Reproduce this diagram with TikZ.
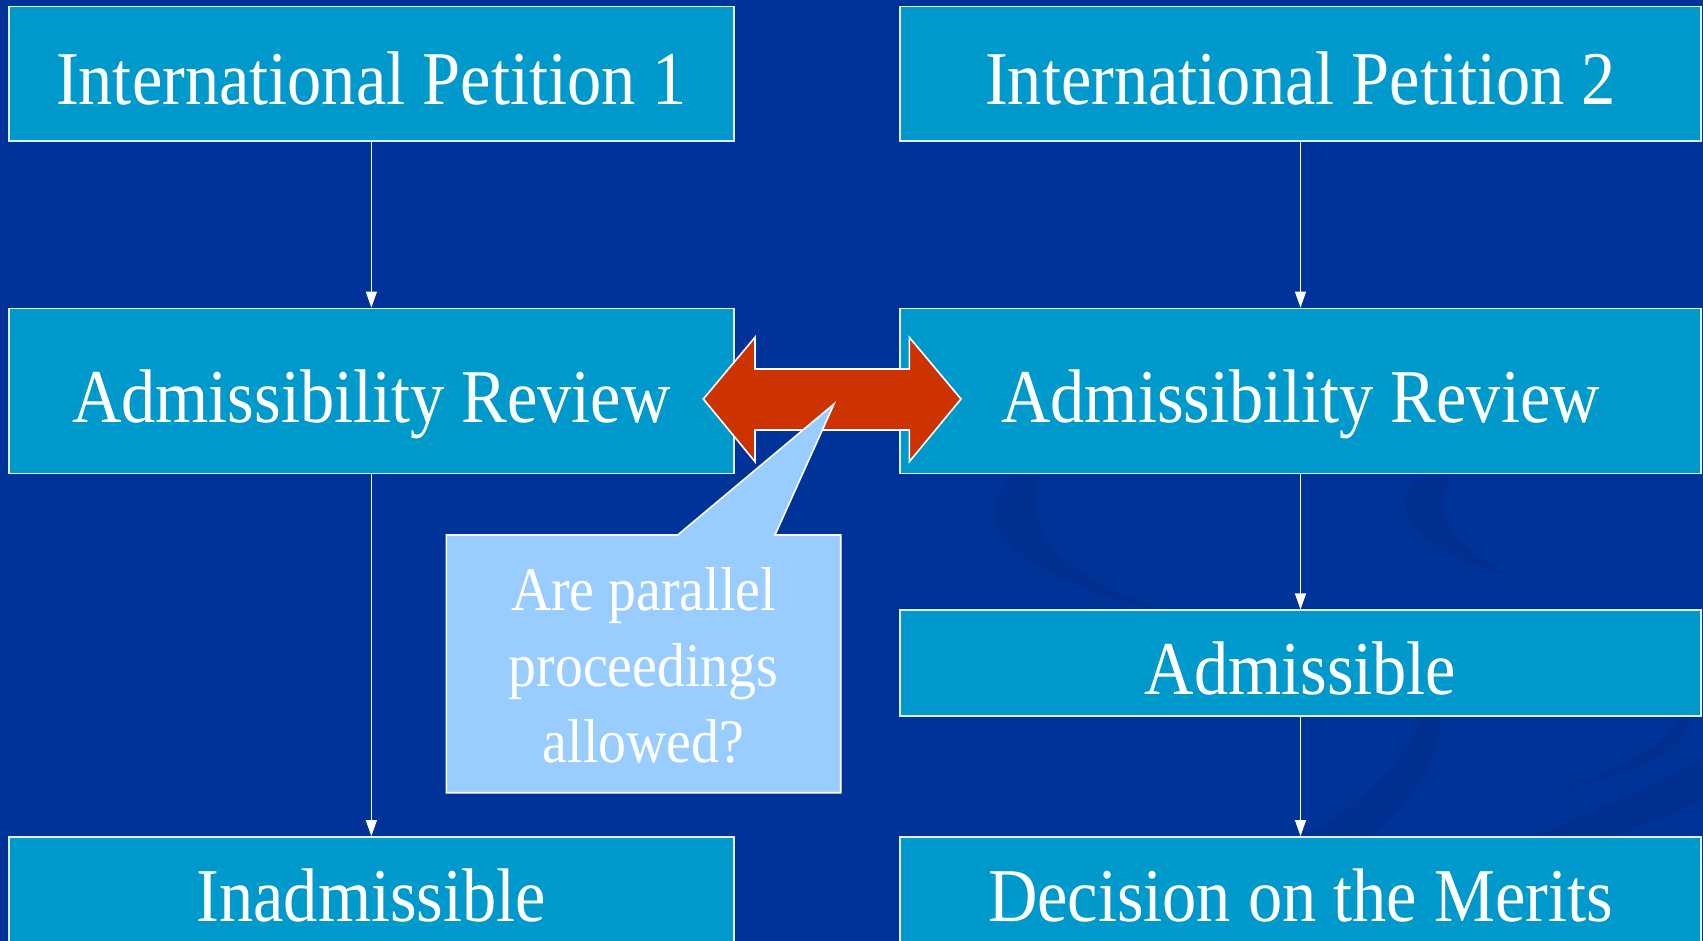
\documentclass[tikz,border=0pt]{standalone}
\usepackage{fontspec}
\setmainfont[FakeStretch=0.9]{Liberation Serif}
\usetikzlibrary{arrows.meta}
\definecolor{boxblue}{RGB}{0,153,204}
\definecolor{boxline}{RGB}{225,238,250}
\definecolor{redarrow}{RGB}{204,51,0}
\definecolor{callfill}{RGB}{153,204,255}
\definecolor{bgtop}{RGB}{8,30,92}
\definecolor{bgmid}{RGB}{0,51,153}
\definecolor{bgbot}{RGB}{0,50,150}
\definecolor{swirl}{RGB}{0,44,136}
\pgfdeclareverticalshading{bgshade}{100bp}{color(0bp)=(bgbot); color(60bp)=(bgmid); color(78bp)=(bgmid); color(100bp)=(bgtop)}
\begin{document}
\begin{tikzpicture}[x=1pt,y=-1pt,
  box/.style={draw=boxline, line width=1.8pt, fill=boxblue, text=white,
    inner sep=0pt, text height=62pt, text depth=0pt,
    font=\fontsize{76}{76}\selectfont},
  leftcol/.style={box, minimum width=725.3pt},
  rightcol/.style={box, minimum width=801pt},
  flow/.style={draw=white, line width=1.3pt, -{Triangle[width=11pt,length=16pt]}},
  dblarrow/.style={fill=redarrow, draw=white, line width=1.6pt, line join=miter},
  callout/.style={fill=callfill, draw=white, line width=1.6pt, line join=miter},
  calltext/.style={text=white, align=center, inner sep=0pt, font=\fontsize{62}{76}\selectfont},
  swirlband/.style={fill=swirl, opacity=0.45}]
\useasboundingbox (0,0) rectangle (1703,941);
\clip (0,0) rectangle (1703,941);
% background
\shade[shading=bgshade] (0,0) rectangle (1703,941);
% faint swirls
\fill[swirlband] (1010,478) .. controls (975,510) and (985,575) .. (1190,618)
  .. controls (1060,580) and (1020,530) .. (1040,478) -- cycle;
\fill[swirlband] (1420,478) .. controls (1390,505) and (1400,545) .. (1515,578)
  .. controls (1450,545) and (1430,510) .. (1450,478) -- cycle;
\fill[swirlband] (1060,941) .. controls (1250,880) and (1400,800) .. (1420,716)
  -- (1440,716) .. controls (1440,800) and (1350,870) .. (1180,941) -- cycle;
\fill[swirlband] (1300,941) .. controls (1500,880) and (1640,830) .. (1703,800)
  -- (1703,760) .. controls (1620,800) and (1480,860) .. (1300,941) -- cycle;
\fill[swirlband] (1560,790) .. controls (1640,760) and (1670,740) .. (1680,716)
  -- (1690,716) .. controls (1690,745) and (1650,770) .. (1560,790) -- cycle;
% boxes
\node[leftcol, minimum height=134.5pt] (ip1) at (371.35,73.75) {International Petition 1};
\node[rightcol, minimum height=134.5pt] (ip2) at (1300.5,73.75) {International Petition 2};
\node[leftcol, minimum height=165pt] (ar1) at (371.35,391) {Admissibility Review};
\node[rightcol, minimum height=165pt] (ar2) at (1300.5,391) {Admissibility Review};
\node[rightcol, minimum height=105.3pt] (adm) at (1300.5,663) {Admissible};
\node[leftcol, minimum height=106pt] (inad) at (371.35,890) {Inadmissible};
\node[rightcol, minimum height=106pt] (dec) at (1300.5,890) {Decision on the Merits};
% connectors
\draw[flow] (ip1) -- (ar1);
\draw[flow] (ar1) -- (inad);
\draw[flow] (ip2) -- (ar2);
\draw[flow] (ar2) -- (adm);
\draw[flow] (adm) -- (dec);
% double arrow
\draw[dblarrow] (703.3,399) -- (755,337.3) -- (755,369) -- (909.3,369) -- (909.3,337.3)
  -- (961,399) -- (909.3,461.7) -- (909.3,430) -- (755,430) -- (755,461.7) -- cycle;
% callout
\draw[callout] (446.4,535) -- (677.7,535) -- (834,404) -- (775,535) -- (840.7,535)
  -- (840.7,792.7) -- (446.4,792.7) -- cycle;
\node[calltext] (q) at (643.5,665) {Are parallel\\proceedings\\allowed?};
\end{tikzpicture}
\end{document}
